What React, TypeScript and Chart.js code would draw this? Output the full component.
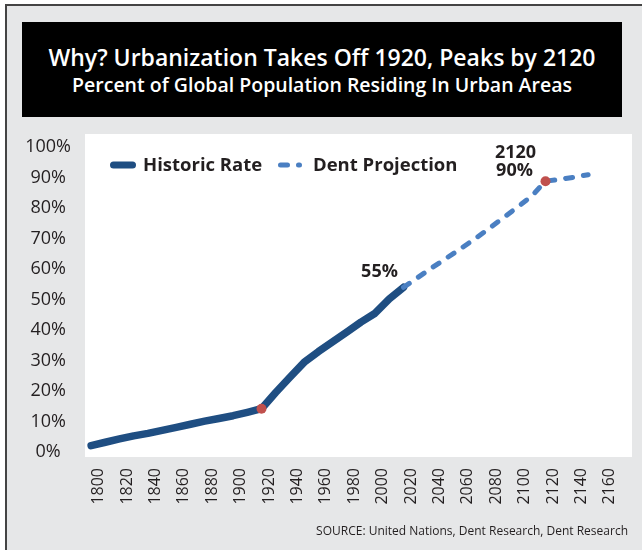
import React, { useEffect, useRef } from "react";
import { Chart, registerables } from "chart.js";

Chart.register(...registerables);

// ---- data ----
const HIST_YEARS = [1800, 1810, 1820, 1830, 1840, 1850, 1860, 1870, 1880, 1890, 1900, 1910, 1920, 1930, 1940, 1950, 1960, 1970, 1980, 1990, 2000, 2010, 2020];
const HIST_VALUES = [2.2, 3.3, 4.4, 5.4, 6.2, 7.2, 8.2, 9.2, 10.2, 11.1, 12.0, 13.1, 14.3, 19.6, 24.6, 29.5, 33.0, 36.2, 39.4, 42.7, 45.6, 50.3, 54.1];
const PROJ_YEARS = [2020, 2030, 2040, 2050, 2060, 2070, 2080, 2090, 2100, 2110, 2120, 2130, 2140, 2150];
const PROJ_VALUES = [54.1, 57.3, 60.5, 63.6, 66.7, 69.9, 73.3, 76.8, 80.3, 83.9, 88.9, 89.5, 90.2, 91.0];
const MARKER_YEARS = [1920, 2120];
const MARKER_VALUES = [14.3, 88.9];
const X_TICKS = [1800, 1820, 1840, 1860, 1880, 1900, 1920, 1940, 1960, 1980, 2000, 2020, 2040, 2060, 2080, 2100, 2120, 2140, 2160];
const Y_TICKS = [0, 10, 20, 30, 40, 50, 60, 70, 80, 90, 100];
const SERIES_NAMES = ["Historic Rate", "Dent Projection"];
const NOTE_55 = "55%";
const NOTE_2120 = ["2120", "90%"];

const TITLE = "Why? Urbanization Takes Off 1920, Peaks by 2120";
const SUBTITLE = "Percent of Global Population Residing In Urban Areas";
const SOURCE = "SOURCE: United Nations, Dent Research, Dent Research";

const FONT = "'Open Sans', sans-serif";
const TEXT = "#231f20";
const DARK_BLUE = "#1f4e82";
const LIGHT_BLUE = "#4a7fc2";
const RED = "#c0504d";
const DASH = [7, 11];

export default function App() {
  const ref = useRef<HTMLCanvasElement>(null);

  useEffect(() => {
    const canvas = ref.current;
    if (!canvas) return;

    const whiteArea = {
      id: "whiteArea",
      beforeDraw(chart: any) {
        const { ctx, chartArea: a } = chart;
        ctx.save();
        ctx.fillStyle = "#ffffff";
        ctx.fillRect(a.left, a.top, a.right - a.left, a.bottom - a.top);
        ctx.restore();
      },
    };

    const notes = {
      id: "notes",
      afterDraw(chart: any) {
        const { ctx, chartArea: a, scales } = chart;
        const xs = scales.x;
        const ys = scales.y;
        ctx.save();
        ctx.fillStyle = TEXT;
        ctx.font = `bold 18px ${FONT}`;
        ctx.textBaseline = "middle";
        ctx.textAlign = "center";
        // 55% note near last historic point
        const lx = xs.getPixelForValue(HIST_YEARS[HIST_YEARS.length - 1]);
        const ly = ys.getPixelForValue(HIST_VALUES[HIST_VALUES.length - 1]);
        ctx.fillText(NOTE_55, lx - 24, ly - 15);
        // 2120 / 90% note
        const px = xs.getPixelForValue(MARKER_YEARS[1]);
        const py = ys.getPixelForValue(MARKER_VALUES[1]);
        ctx.fillText(NOTE_2120[0], px - 30, py - 28);
        ctx.fillText(NOTE_2120[1], px - 31, py - 10);

        // legend
        const legY = a.top + 31;
        ctx.lineCap = "round";
        ctx.strokeStyle = DARK_BLUE;
        ctx.lineWidth = 7;
        ctx.beginPath();
        ctx.moveTo(a.left + 28.5, legY);
        ctx.lineTo(a.left + 47.5, legY);
        ctx.stroke();
        ctx.strokeStyle = LIGHT_BLUE;
        ctx.lineWidth = 5;
        ctx.setLineDash(DASH);
        ctx.beginPath();
        ctx.moveTo(a.left + 195.5, legY);
        ctx.lineTo(a.left + 214.5, legY);
        ctx.stroke();
        ctx.setLineDash([]);
        ctx.textAlign = "left";
        ctx.font = `bold 18.5px ${FONT}`;
        ctx.fillText(SERIES_NAMES[0], a.left + 58, legY + 1);
        ctx.fillText(SERIES_NAMES[1], a.left + 228, legY + 1);
        ctx.restore();
      },
    };

    const chart = new Chart(canvas, {
      type: "line",
      data: {
        datasets: [
          {
            label: "markers",
            data: MARKER_YEARS.map((x, i) => ({ x, y: MARKER_VALUES[i] })),
            showLine: false,
            pointRadius: 5,
            pointHoverRadius: 5,
            pointBackgroundColor: RED,
            pointBorderWidth: 0,
            borderColor: RED,
            order: 0,
          },
          {
            label: SERIES_NAMES[1],
            data: PROJ_YEARS.map((x, i) => ({ x, y: PROJ_VALUES[i] })),
            borderColor: LIGHT_BLUE,
            borderWidth: 5,
            borderDash: DASH,
            borderCapStyle: "round",
            borderJoinStyle: "round",
            pointRadius: 0,
            tension: 0,
            order: 1,
          },
          {
            label: SERIES_NAMES[0],
            data: HIST_YEARS.map((x, i) => ({ x, y: HIST_VALUES[i] })),
            borderColor: DARK_BLUE,
            borderWidth: 7.5,
            borderCapStyle: "round",
            borderJoinStyle: "round",
            pointRadius: 0,
            tension: 0,
            order: 2,
          },
        ],
      },
      options: {
        responsive: false,
        animation: false,
        events: [],
        layout: { padding: { left: 0, right: 10, top: 14, bottom: 0 } },
        plugins: {
          legend: { display: false },
          tooltip: { enabled: false },
          title: { display: false },
        },
        scales: {
          x: {
            type: "linear",
            min: 1795.7,
            max: 2180.9,
            grid: { display: false, drawTicks: false },
            border: { display: false },
            afterBuildTicks: (s: any) => {
              s.ticks = X_TICKS.map((v) => ({ value: v }));
            },
            afterFit: (s: any) => {
              s.height = 93;
              s.paddingLeft = 0;
              s.paddingRight = 0;
              s.paddingTop = 0;
              s.paddingBottom = 0;
            },
            ticks: {
              autoSkip: false,
              minRotation: 90,
              maxRotation: 90,
              padding: 11,
              labelOffset: 7.5,
              color: TEXT,
              font: { family: FONT, size: 16 },
              callback: (v: any) => String(v),
            },
          },
          y: {
            type: "linear",
            min: -1.54,
            max: 104.37,
            grid: { display: false, drawTicks: false },
            border: { display: false },
            afterBuildTicks: (s: any) => {
              s.ticks = Y_TICKS.map((v) => ({ value: v }));
            },
            afterFit: (s: any) => {
              s.width = 85;
              s.paddingLeft = 0;
              s.paddingRight = 0;
              s.paddingTop = 0;
              s.paddingBottom = 0;
            },
            ticks: {
              crossAlign: "center",
              padding: 14,
              color: TEXT,
              font: { family: FONT, size: 18 },
              callback: (v: any) => `${v}%`,
            },
          },
        },
      },
      plugins: [whiteArea, notes],
    });
    return () => chart.destroy();
  }, []);

  return (
    <div style={{ position: "absolute", left: 0, top: 0, width: 642, height: 550, overflow: "hidden", background: "#ffffff", fontFamily: FONT }}>
      <div style={{ position: "absolute", left: 5, top: 4, width: 660, height: 570, background: "#e6e7e8", border: "2px solid #444444", boxSizing: "border-box" }} />
      <div style={{ position: "absolute", left: 22, top: 22, width: 600, height: 95, background: "#000000", color: "#ffffff", textAlign: "center" }}>
        <div style={{ position: "absolute", left: 0, right: 0, top: 35, transform: "translateY(-50%)", fontSize: 23, fontWeight: 600, lineHeight: 1, whiteSpace: "nowrap" }}>{TITLE}</div>
        <div style={{ position: "absolute", left: 0, right: 0, top: 63, transform: "translateY(-50%)", fontSize: 19.5, fontWeight: 600, lineHeight: 1, whiteSpace: "nowrap" }}>{SUBTITLE}</div>
      </div>
      <canvas ref={ref} width={642} height={430} style={{ position: "absolute", left: 0, top: 120, width: 642, height: 430 }} />
      <div style={{ position: "absolute", right: 14, top: 531, transform: "translateY(-50%)", fontSize: 12, color: TEXT, lineHeight: 1, whiteSpace: "nowrap" }}>{SOURCE}</div>
    </div>
  );
}
